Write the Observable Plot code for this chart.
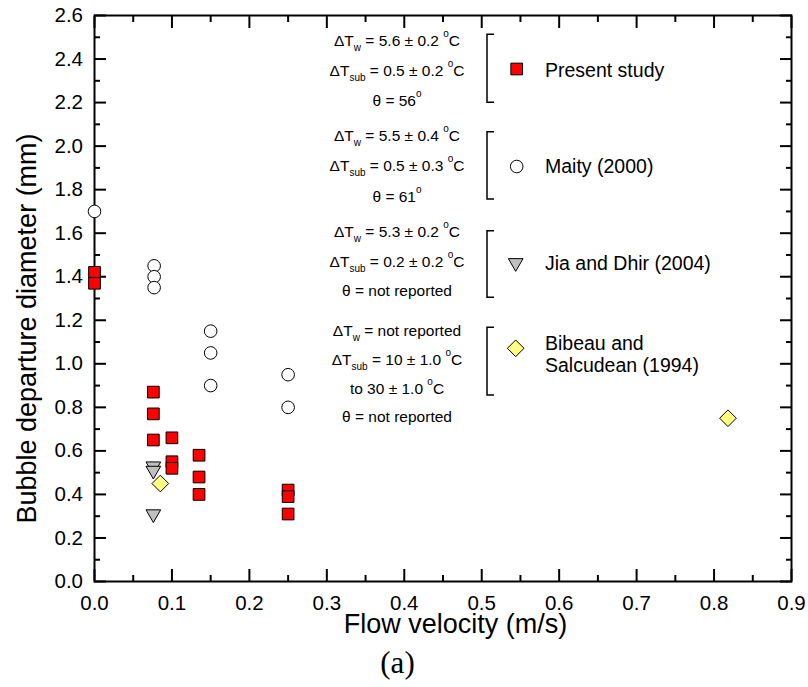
<!DOCTYPE html>
<html><head><meta charset="utf-8">
<script src="https://cdn.jsdelivr.net/npm/d3@7"></script>
<script src="https://cdn.jsdelivr.net/npm/@observablehq/plot@0.6"></script>
<style>html,body{margin:0;padding:0;background:#fff} svg{display:block}</style>
</head><body><div id="chart"></div>
<script>
// ---- data ----
const presentX = [0, 0, 0.076, 0.076, 0.076, 0.1, 0.1, 0.1, 0.135, 0.135, 0.135, 0.25, 0.25, 0.25];
const presentY = [1.42, 1.37, 0.87, 0.77, 0.65, 0.66, 0.55, 0.52, 0.58, 0.48, 0.40, 0.42, 0.39, 0.31];
const maityX = [0, 0.077, 0.077, 0.077, 0.15, 0.15, 0.15, 0.25, 0.25];
const maityY = [1.70, 1.45, 1.40, 1.35, 1.15, 1.05, 0.90, 0.95, 0.80];
const jiaX = [0.076, 0.076, 0.076];
const jiaY = [0.52, 0.50, 0.30];
const bibeauX = [0.085, 0.818];
const bibeauY = [0.45, 0.75];

const xTicks = [0, 0.1, 0.2, 0.3, 0.4, 0.5, 0.6, 0.7, 0.8, 0.9];
const xMinor = [0.05, 0.15, 0.25, 0.35, 0.45, 0.55, 0.65, 0.75, 0.85];
const yTicks = [0, 0.2, 0.4, 0.6, 0.8, 1.0, 1.2, 1.4, 1.6, 1.8, 2.0, 2.2, 2.4, 2.6];
const yMinor = [0.1, 0.3, 0.5, 0.7, 0.9, 1.1, 1.3, 1.5, 1.7, 1.9, 2.1, 2.3, 2.5];

const xLabel = "Flow velocity (m/s)";
const yLabel = "Bubble departure diameter (mm)";
const panelLabel = "(a)";

const seriesNames = ["Present study", "Maity (2000)", "Jia and Dhir (2004)", "Bibeau and\nSalcudean (1994)"];
const seriesParams = [
  ["ΔT_{w} = 5.6 ± 0.2 ^{o}C", "ΔT_{sub} = 0.5 ± 0.2 ^{o}C", "θ = 56^{o}"],
  ["ΔT_{w} = 5.5 ± 0.4 ^{o}C", "ΔT_{sub} = 0.5 ± 0.3 ^{o}C", "θ = 61^{o}"],
  ["ΔT_{w} = 5.3 ± 0.2 ^{o}C", "ΔT_{sub} = 0.2 ± 0.2 ^{o}C", "θ = not reported"],
  ["ΔT_{w} = not reported", "ΔT_{sub} = 10 ± 1.0 ^{o}C", "to 30 ± 1.0 ^{o}C", "θ = not reported"]
];

// ---- symbols ----
const triangleDown = {draw(ctx, size) {
  const r = Math.sqrt(size / Math.PI), w = 1.225 * r, h = 1.06 * r;
  ctx.moveTo(-w, -h); ctx.lineTo(w, -h); ctx.lineTo(0, h); ctx.closePath();
}};
const diamond = {draw(ctx, size) {
  const r = Math.sqrt(size / Math.PI), d = 1.39 * r;
  ctx.moveTo(0, -d); ctx.lineTo(d, 0); ctx.lineTo(0, d); ctx.lineTo(-d, 0); ctx.closePath();
}};
const styles = [
  {symbol: "square", r: 6.6, fill: "#ff0000"},
  {symbol: "circle", r: 6.3, fill: "#ffffff"},
  {symbol: triangleDown, r: 6, fill: "#c0c0c0"},
  {symbol: diamond, r: 6, fill: "#ffff80"}
];

const toRows = (xs, ys) => xs.map((x, i) => ({x, y: ys[i]}));
const series = [toRows(presentX, presentY), toRows(maityX, maityY), toRows(jiaX, jiaY), toRows(bibeauX, bibeauY)];

const fmt = d3.format(".1f");
const FONT = "'Liberation Sans', Arial, sans-serif";
const tickOpts = {stroke: "black", fill: "none", strokeWidth: 2, label: null};

const chart = Plot.plot({
  width: 808, height: 687,
  marginLeft: 94, marginRight: 17, marginTop: 15, marginBottom: 106,
  style: {fontFamily: FONT, fontSize: "20px", color: "black", background: "white"},
  x: {domain: [0, 0.9]},
  y: {domain: [0, 2.6]},
  marks: [
    // inward ticks, major and minor, on all four sides
    Plot.axisX(xTicks, {...tickOpts, anchor: "bottom", tickSize: 12, dy: -12}),
    Plot.axisX(xMinor, {...tickOpts, anchor: "bottom", tickSize: 6, dy: -6}),
    Plot.axisX(xTicks, {...tickOpts, anchor: "top", tickSize: 12, dy: 12}),
    Plot.axisX(xMinor, {...tickOpts, anchor: "top", tickSize: 6, dy: 6}),
    Plot.axisY(yTicks, {...tickOpts, anchor: "left", tickSize: 12, dx: 12}),
    Plot.axisY(yMinor, {...tickOpts, anchor: "left", tickSize: 6, dx: 6}),
    Plot.axisY(yTicks, {...tickOpts, anchor: "right", tickSize: 12, dx: -12}),
    Plot.axisY(yMinor, {...tickOpts, anchor: "right", tickSize: 6, dx: -6}),
    // tick labels
    Plot.axisX(xTicks, {anchor: "bottom", tickSize: 0, stroke: "none", fill: "black", tickPadding: 14, fontSize: 20.5, tickFormat: fmt, label: null}),
    Plot.axisY(yTicks, {anchor: "left", tickSize: 0, stroke: "none", fill: "black", tickPadding: 11.5, fontSize: 20.5, tickFormat: fmt, label: null}),
    Plot.frame({stroke: "black", strokeWidth: 2}),
    // axis titles
    Plot.text([xLabel], {frameAnchor: "bottom", lineAnchor: "bottom", textAnchor: "middle", dy: 51, dx: 12.5, fontSize: 27, fill: "black"}),
    Plot.text([yLabel], {frameAnchor: "left", lineAnchor: "middle", textAnchor: "middle", rotate: -90, dx: -67, dy: 30, fontSize: 27, fill: "black"}),
    Plot.text([panelLabel], {frameAnchor: "bottom", lineAnchor: "bottom", textAnchor: "middle", dy: 91, dx: -45.5, fontSize: 31, fontFamily: "'Liberation Serif', 'Times New Roman', serif", fill: "black"}),
    // data
    ...series.map((rows, i) => Plot.dot(rows, {x: "x", y: "y", symbol: styles[i].symbol, r: styles[i].r, fill: styles[i].fill, stroke: "black", strokeWidth: 1}))
  ]
});
document.getElementById("chart").appendChild(chart);

// ---- legend (annotation drawn in pixel space) ----
const legendBaselines = [[46, 76, 106], [141, 171, 201.5], [237, 267, 296], [336, 365, 394, 422]];
const bracketSpans = [[34.3, 102.3], [131.7, 199], [230.7, 297.3], [327.3, 395]];
const symbolCenters = [[516.7, 69], [516.7, 166.5], [515.7, 265], [515.7, 348.3]];
const nameBaselines = [[76.7], [173], [270], [350, 372]];

const svg = d3.select(chart);
const lg = svg.append("g").attr("font-family", FONT).attr("fill", "black");

function richText(sel, str) {
  const parts = str.split(/(_\{[^}]*\}|\^\{[^}]*\})/).filter(s => s.length);
  let off = 0;
  for (const p of parts) {
    let target = 0, txt = p, small = false;
    if (p.startsWith("_{")) { target = 5; txt = p.slice(2, -1); small = true; }
    else if (p.startsWith("^{")) { target = -9; txt = p.slice(2, -1); small = true; }
    const t = sel.append("tspan").attr("dy", target - off).text(txt);
    if (small) t.attr("font-size", 10);
    off = target;
  }
}

seriesParams.forEach((lines, i) => {
  lines.forEach((line, j) => {
    const t = lg.append("text").attr("x", 397).attr("y", legendBaselines[i][j])
      .attr("text-anchor", "middle").attr("font-size", 15.5);
    richText(t, line);
  });
  const [y0, y1] = bracketSpans[i];
  lg.append("path").attr("d", `M494,${y0}H487V${y1}H494`).attr("fill", "none")
    .attr("stroke", "black").attr("stroke-width", 1.5);
  const [cx, cy] = symbolCenters[i];
  lg.append("path").attr("transform", `translate(${cx},${cy})`)
    .attr("d", d3.symbol(styles[i].symbol === "square" ? d3.symbolSquare : styles[i].symbol === "circle" ? d3.symbolCircle : styles[i].symbol, Math.PI * styles[i].r ** 2)())
    .attr("fill", styles[i].fill).attr("stroke", "black").attr("stroke-width", 1);
  seriesNames[i].split("\n").forEach((s, k) => {
    lg.append("text").attr("x", 545).attr("y", nameBaselines[i][k]).attr("text-anchor", "start")
      .attr("font-size", 19.5).text(s);
  });
});
</script>
</body></html>
